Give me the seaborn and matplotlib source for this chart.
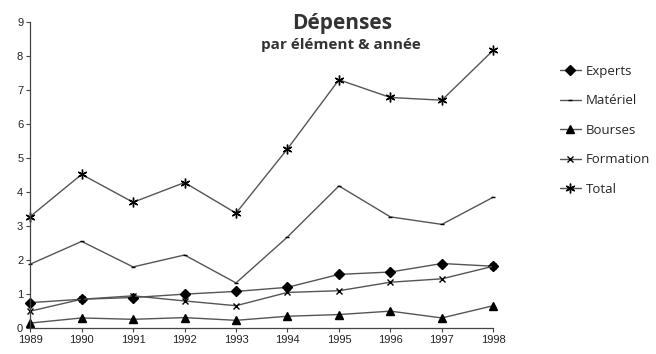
import pandas as pd
import seaborn as sns
import matplotlib.pyplot as plt

# --- DATA ---
years = [1989, 1990, 1991, 1992, 1993, 1994, 1995, 1996, 1997, 1998]
experts = [0.75, 0.85, 0.9, 1.0, 1.08, 1.2, 1.58, 1.65, 1.9, 1.82]
materiel = [1.88, 2.55, 1.8, 2.15, 1.33, 2.68, 4.18, 3.27, 3.05, 3.85]
bourses = [0.15, 0.3, 0.26, 0.31, 0.23, 0.35, 0.4, 0.5, 0.3, 0.66]
formation = [0.5, 0.85, 0.95, 0.8, 0.66, 1.05, 1.1, 1.35, 1.45, 1.82]
total = [3.28, 4.52, 3.7, 4.28, 3.38, 5.27, 7.3, 6.78, 6.7, 8.17]

series = {
    'Experts': experts,
    'Matériel': materiel,
    'Bourses': bourses,
    'Formation': formation,
    'Total': total,
}
styles = {
    'Experts': dict(marker='D', markersize=5),
    'Matériel': dict(marker='_', markersize=3),
    'Bourses': dict(marker='^', markersize=5.5),
    'Formation': dict(marker='x', markersize=5),
    'Total': dict(marker=(6, 2, 0), markersize=7),
}

sns.set_style("white")
plt.rcParams['font.family'] = ['Liberation Sans', 'DejaVu Sans']

fig = plt.figure(figsize=(6.56, 3.54), dpi=100)
ax = fig.add_axes([0.046, 0.073, 0.706, 0.865])

for name, vals in series.items():
    df = pd.DataFrame({'year': years, 'value': vals})
    sns.lineplot(data=df, x='year', y='value', ax=ax, color='#555555', lw=1,
                 markerfacecolor='black', markeredgecolor='black',
                 markeredgewidth=1, label=name, clip_on=False, **styles[name])

ax.set_xlim(1989, 1998)
ax.set_ylim(0, 9)
ax.set_xticks(years)
ax.set_yticks(range(10))
ax.tick_params(axis='both', labelsize=8, length=3, width=0.8, direction='out',
               color='#444444', labelcolor='#222222', bottom=True, left=True, pad=2)
ax.set_xlabel('')
ax.set_ylabel('')
for side in ['top', 'right']:
    ax.spines[side].set_visible(False)
for side in ['left', 'bottom']:
    ax.spines[side].set_color('#444444')
    ax.spines[side].set_linewidth(0.9)

handles, labels = ax.get_legend_handles_labels()
ax.get_legend().remove()
fig.legend(handles, labels, loc='upper left', bbox_to_anchor=(0.835, 0.85),
           frameon=False, handlelength=1.6, handletextpad=0.4, labelspacing=1.25,
           prop={'family': 'Open Sans', 'size': 9.5})

fig.text(0.522, 0.935, 'Dépenses', ha='center', va='center', fontsize=15,
         fontweight='bold', family='Open Sans', color='#333333')
fig.text(0.52, 0.872, 'par élément & année', ha='center', va='center', fontsize=11,
         fontweight='bold', family='Open Sans', color='#333333')

fig.savefig('out.png', dpi=100)
